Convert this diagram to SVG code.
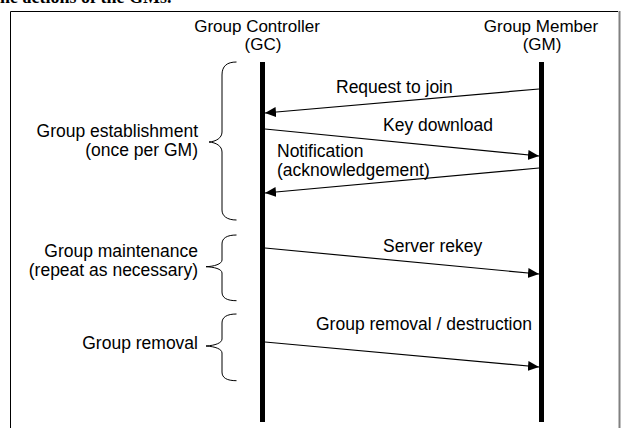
<svg xmlns="http://www.w3.org/2000/svg" width="622" height="428" viewBox="0 0 622 428">
<defs>
<style>
text{font-family:"Liberation Sans",Arial,sans-serif;font-size:17.5px;fill:#000}
.mid{text-anchor:middle}
.end{text-anchor:end}
.hdr{font-size:17px}
.life{fill:#000}
.msg{stroke:#000;stroke-width:1.2;fill:none;marker-end:url(#ah)}
.brace{stroke:#000;stroke-width:1;fill:none}
</style>
<marker id="ah" markerUnits="userSpaceOnUse" markerWidth="12" markerHeight="12" viewBox="0 0 12 12" refX="11" refY="6" orient="auto">
<path d="M0,1 L11,6 L0,11 Z" fill="#000"/>
</marker>
</defs>
<rect width="622" height="428" fill="#fff"/>
<text x="-6" y="3" style="font-family:'Liberation Serif','Times New Roman',serif;font-weight:bold;font-size:18px">the actions of the GMs.</text>
<g id="frame">
<path d="M10.5,440 V11.5 H618" stroke="#000" stroke-width="1" fill="none"/>
<line x1="619.5" y1="11" x2="619.5" y2="428" stroke="#808080" stroke-width="2"/>
</g>
<g id="gc">
<text class="mid hdr" x="257" y="32">Group Controller</text>
<text class="mid hdr" x="263" y="50">(GC)</text>
<rect class="life" x="260" y="62" width="5" height="360"/>
</g>
<g id="gm">
<text class="mid hdr" x="541" y="32">Group Member</text>
<text class="mid hdr" x="542" y="50">(GM)</text>
<rect class="life" x="539" y="62" width="5" height="360"/>
</g>
<g id="phase-establishment">
<path class="brace" d="M236.5,62 C227,62 222,66 222,75 V132 C222,138 216,141.5 209,142 C216,142.5 222,146 222,152 V210 C222,216 227,220 236.5,220"/>
<text class="end" x="198" y="137">Group establishment</text>
<text class="end" x="198" y="156">(once per GM)</text>
</g>
<g id="phase-maintenance">
<path class="brace" d="M236.5,235 C227,235 222,238 222,244 V260 C222,264 214,266.5 206,266.7 C214,267 222,269 222,273 V292 C222,298 227,300.7 236.5,300.7"/>
<text class="end" x="198" y="257">Group maintenance</text>
<text class="end" x="198" y="276">(repeat as necessary)</text>
</g>
<g id="phase-removal">
<path class="brace" d="M236.5,314 C227,314 222,317 222,323 V339 C222,343 215,345.5 206,346 C215,346.5 222,349 222,353 V372 C222,378 227,380.7 236.5,380.7"/>
<text class="end" x="198" y="349">Group removal</text>
</g>
<g id="connectors">
<line class="msg" x1="539" y1="89" x2="265" y2="113"/>
<line class="msg" x1="265" y1="129" x2="539" y2="156"/>
<line class="msg" x1="539" y1="168" x2="265" y2="193"/>
<line class="msg" x1="265" y1="248" x2="539" y2="274"/>
<line class="msg" x1="265" y1="342" x2="539" y2="367"/>
<text x="336" y="93">Request to join</text>
<text x="383" y="131">Key download</text>
<text x="277" y="157">Notification</text>
<text x="277" y="176">(acknowledgement)</text>
<text x="383" y="252">Server rekey</text>
<text x="316" y="330">Group removal / destruction</text>
</g>
</svg>
